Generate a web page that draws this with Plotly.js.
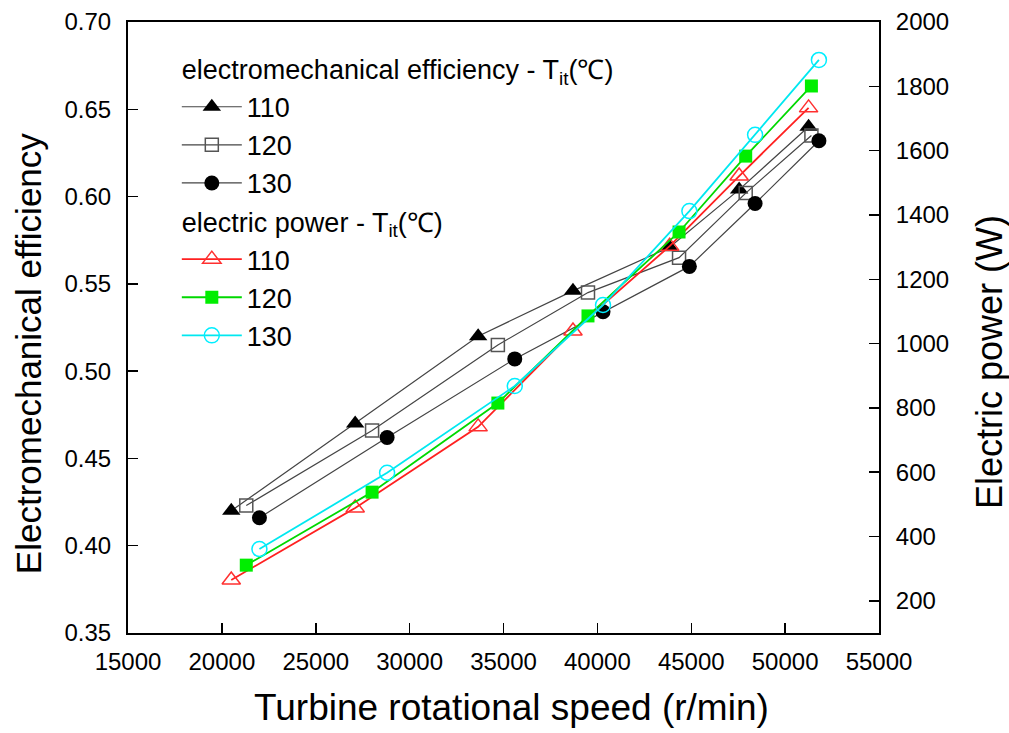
<!DOCTYPE html>
<html>
<head>
<meta charset="utf-8">
<script src="https://cdn.plot.ly/plotly-3.0.1.min.js"></script>
<style>html,body{margin:0;padding:0;background:#fff;}#chart{width:1009px;height:733px;}</style>
</head>
<body>
<div id="chart"></div>
<script>
// Turbine rotational speed (r/min)
const speed110 = [20500, 27100, 33650, 38700, 43850, 47550, 51250];
const speed120 = [21300, 28000, 34700, 39500, 44350, 47900, 51400];
const speed130 = [22000, 28800, 35600, 40300, 44900, 48400, 51800];
// Electromechanical efficiency
const eff110 = [0.420, 0.470, 0.520, 0.546, 0.571, 0.604, 0.640];
const eff120 = [0.423, 0.466, 0.515, 0.545, 0.565, 0.602, 0.635];
const eff130 = [0.416, 0.462, 0.507, 0.534, 0.560, 0.596, 0.632];
// Electric power (W)
const pow110 = [265, 489, 741, 1039, 1303, 1521, 1733];
const pow120 = [311, 538, 815, 1086, 1347, 1583, 1801];
const pow130 = [361, 598, 868, 1120, 1412, 1649, 1882];
// Tick labels
const xTicks = [15000,20000,25000,30000,35000,40000,45000,50000,55000];
const xTickText = ["15000","20000","25000","30000","35000","40000","45000","50000","55000"];
const yTicks = [0.35,0.40,0.45,0.50,0.55,0.60,0.65,0.70];
const yTickText = ["0.35","0.40","0.45","0.50","0.55","0.60","0.65","0.70"];
const y2Ticks = [200,400,600,800,1000,1200,1400,1600,1800,2000];
const y2TickText = ["200","400","600","800","1000","1200","1400","1600","1800","2000"];

const effTitle = "electromechanical efficiency - T<sub>it</sub>(℃)";
const powTitle = "electric power - T<sub>it</sub>(℃)";
const FONT = "Liberation Sans, Arial, sans-serif";

const traces = [
  {x: speed110, y: eff110, name: "110", mode: "lines+markers", legendgroup: "eff",
   legendgrouptitle: {text: effTitle, font: {size: 27, color: "#000"}},
   line: {color: "#444", width: 1.2},
   marker: {symbol: "triangle-up", size: 16, color: "#000"}},
  {x: speed120, y: eff120, name: "120", mode: "lines+markers", legendgroup: "eff",
   line: {color: "#444", width: 1.2},
   marker: {symbol: "square-open", size: 13, color: "#555", line: {width: 1.5}}},
  {x: speed130, y: eff130, name: "130", mode: "lines+markers", legendgroup: "eff",
   line: {color: "#444", width: 1.2},
   marker: {symbol: "circle", size: 15, color: "#000"}},
  {x: speed110, y: pow110, name: "110", mode: "lines+markers", legendgroup: "pow", yaxis: "y2",
   legendgrouptitle: {text: powTitle, font: {size: 27, color: "#000"}},
   line: {color: "#ff2020", width: 1.8},
   marker: {symbol: "triangle-up-open", size: 16, color: "#ff3030", line: {width: 1.5}}},
  {x: speed120, y: pow120, name: "120", mode: "lines+markers", legendgroup: "pow", yaxis: "y2",
   line: {color: "#00d800", width: 1.8},
   marker: {symbol: "square", size: 13, color: "#00ee00"}},
  {x: speed130, y: pow130, name: "130", mode: "lines+markers", legendgroup: "pow", yaxis: "y2",
   line: {color: "#00e8f0", width: 1.8},
   marker: {symbol: "circle-open", size: 15, color: "#00eeff", line: {width: 1.5}}}
];

const axisCommon = {
  ticks: "inside", ticklen: 10, tickwidth: 1.5, tickcolor: "#000",
  showline: true, linecolor: "#000", linewidth: 2,
  showgrid: false, zeroline: false,
  tickfont: {size: 24, family: FONT, color: "#000"}
};

const layout = {
  width: 1009, height: 733,
  margin: {l: 127.5, r: 130, t: 22, b: 100},
  paper_bgcolor: "#fff", plot_bgcolor: "#fff",
  font: {family: FONT, color: "#000"},
  showlegend: true,
  legend: {x: 0.065, y: 0.963, xanchor: "left", yanchor: "top",
           font: {size: 27, color: "#000"}, bgcolor: "rgba(0,0,0,0)",
           tracegroupgap: 0, itemwidth: 60},
  xaxis: Object.assign({}, axisCommon, {range: [15000, 55000], tickvals: xTicks, ticktext: xTickText,
          mirror: true, ticklabelstandoff: 6}),
  yaxis: Object.assign({}, axisCommon, {range: [0.35, 0.70], tickvals: yTicks, ticktext: yTickText,
          ticklabelstandoff: 10}),
  yaxis2: Object.assign({}, axisCommon, {range: [100, 2000], overlaying: "y", side: "right",
          tickvals: y2Ticks, ticktext: y2TickText, ticklabelstandoff: 10}),
  annotations: [
    {text: "Turbine rotational speed (r/min)", xref: "paper", yref: "paper",
     x: 0.51, y: -0.1227, xanchor: "center", yanchor: "middle", showarrow: false,
     font: {size: 37, family: FONT, color: "#000"}},
    {text: "Electromechanical efficiency", xref: "paper", yref: "paper",
     x: -0.133, y: 0.4566, xanchor: "center", yanchor: "middle", showarrow: false, textangle: -90,
     font: {size: 35, family: FONT, color: "#000"}},
    {text: "Electric power (W)", xref: "paper", yref: "paper",
     x: 1.1464, y: 0.4435, xanchor: "center", yanchor: "middle", showarrow: false, textangle: -90,
     font: {size: 36, family: FONT, color: "#000"}}
  ]
};

Plotly.newPlot("chart", traces, layout, {displayModeBar: false, staticPlot: true});
</script>
</body>
</html>
